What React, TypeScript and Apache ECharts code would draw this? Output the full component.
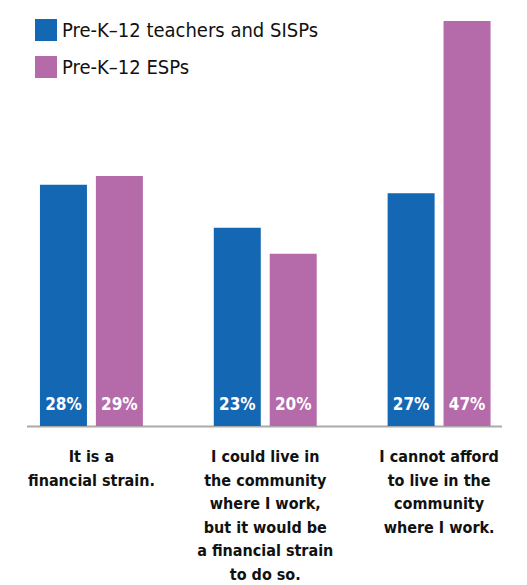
import React, { useEffect, useRef } from "react";
import * as echarts from "echarts";

const categories = [
  "It is a\nfinancial strain.",
  "I could live in\nthe community\nwhere I work,\nbut it would be\na financial strain\nto do so.",
  "I cannot afford\nto live in the\ncommunity\nwhere I work.",
];
const seriesNames = ["Pre-K\u201312 teachers and SISPs", "Pre-K\u201312 ESPs"];
const teachers = [28, 23, 27];
const esps = [29, 20, 47];

const FONT = "'Liberation Sans Narrow', 'DejaVu Sans Condensed', 'Roboto Condensed', sans-serif";
const BLUE = "#1467b3";
const PINK = "#b56aaa";

export default function App() {
  const ref = useRef<HTMLDivElement>(null);
  useEffect(() => {
    if (!ref.current) return;
    const chart = echarts.init(ref.current, null, { renderer: "svg" });
    const label = {
      show: true,
      position: "insideBottom",
      distance: 14,
      color: "#fff",
      fontFamily: FONT,
      fontWeight: "bold",
      fontSize: 17,
      formatter: "{c}%",
    };
    chart.setOption({
      animation: false,
      legend: {
        orient: "vertical",
        left: 30,
        top: 14,
        itemWidth: 22,
        itemHeight: 22,
        itemGap: 15,
        icon: "rect",
        textStyle: { fontFamily: FONT, fontSize: 20, color: "#111", padding: [0, 0, 0, 0] },
        data: seriesNames,
      },
      grid: {
        left: 4.5,
        right: 1,
        top: 12.4,
        bottom: 159,
        containLabel: false,
        outerBoundsMode: "none",
      },
      xAxis: {
        type: "category",
        data: categories,
        axisLine: { show: false },
        axisTick: { show: false },
        axisLabel: {
          interval: 0,
          margin: 19,
          fontFamily: FONT,
          fontWeight: "bold",
          fontSize: 16,
          lineHeight: 23.5,
          color: "#111",
          verticalAlign: "top",
        },
      },
      yAxis: { type: "value", min: 0, max: 48, show: false, splitLine: { show: false } },
      graphic: [
        {
          type: "line",
          shape: { x1: 27, y1: 426.5, x2: 502, y2: 426.5 },
          style: { stroke: "#aaaaaa", lineWidth: 2 },
        },
      ],
      series: [
        {
          name: seriesNames[0],
          type: "bar",
          data: teachers,
          barWidth: 47,
          barGap: "19%",
          itemStyle: { color: BLUE },
          label,
        },
        {
          name: seriesNames[1],
          type: "bar",
          data: esps,
          barWidth: 47,
          itemStyle: { color: PINK },
          label,
        },
      ],
    });
    return () => chart.dispose();
  }, []);
  return (
    <div
      ref={ref}
      style={{ position: "fixed", left: 0, top: 0, width: 527, height: 585, background: "#fff" }}
    />
  );
}
